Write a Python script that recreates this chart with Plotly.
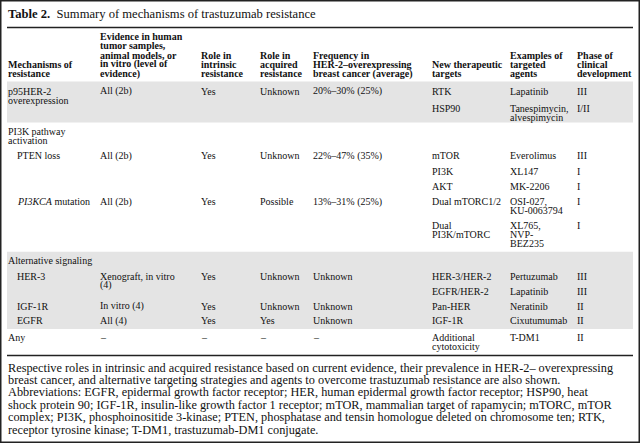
import plotly.graph_objects as go

# ---------------- data ----------------
title_bold = "Table 2."
title_text = "Summary of mechanisms of trastuzumab resistance"

header_mechanism = ["Mechanisms of", "resistance"]
header_evidence = ["Evidence in human", "tumor samples,", "animal models, or", "in vitro (level of", "evidence)"]
header_intrinsic = ["Role in", "intrinsic", "resistance"]
header_acquired = ["Role in", "acquired", "resistance"]
header_frequency = ["Frequency in", "HER-2–overexpressing", "breast cancer (average)"]
header_targets = ["New therapeutic", "targets"]
header_agents = ["Examples of", "targeted", "agents"]
header_phase = ["Phase of", "clinical", "development"]

mechanism = ["p95HER-2\noverexpression", "", "PI3K pathway\nactivation", "PTEN loss", "", "",
             "<i>PI3KCA</i> mutation", "", "Alternative signaling", "HER-3", "", "IGF-1R", "EGFR", "Any"]
evidence = ["All (2b)", "", "", "All (2b)", "", "", "All (2b)", "", "",
            "Xenograft, in vitro\n(4)", "", "In vitro (4)", "All (4)", "–"]
intrinsic = ["Yes", "", "", "Yes", "", "", "Yes", "", "", "Yes", "", "Yes", "Yes", "–"]
acquired = ["Unknown", "", "", "Unknown", "", "", "Possible", "", "", "Unknown", "", "Unknown", "Yes", "–"]
frequency = ["20%–30% (25%)", "", "", "22%–47% (35%)", "", "", "13%–31% (25%)", "", "",
             "Unknown", "", "Unknown", "Unknown", "–"]
targets = ["RTK", "HSP90", "", "mTOR", "PI3K", "AKT", "Dual mTORC1/2", "Dual\nPI3K/mTORC", "",
           "HER-3/HER-2", "EGFR/HER-2", "Pan-HER", "IGF-1R", "Additional\ncytotoxicity"]
agents = ["Lapatinib", "Tanespimycin,\nalvespimycin", "", "Everolimus", "XL147", "MK-2206",
          "OSI-027,\nKU-0063794", "XL765,\nNVP-\nBEZ235", "", "Pertuzumab", "Lapatinib",
          "Neratinib", "Cixutumumab", "T-DM1"]
phase = ["III", "I/II", "", "III", "I", "I", "I", "I", "", "III", "III", "II", "II", "II"]

footnote = [
    "Respective roles in intrinsic and acquired resistance based on current evidence, their prevalence in HER-2– overexpressing",
    "breast cancer, and alternative targeting strategies and agents to overcome trastuzumab resistance are also shown.",
    "Abbreviations: EGFR, epidermal growth factor receptor; HER, human epidermal growth factor receptor; HSP90, heat",
    "shock protein 90; IGF-1R, insulin-like growth factor 1 receptor; mTOR, mammalian target of rapamycin; mTORC, mTOR",
    "complex; PI3K, phosphoinositide 3-kinase; PTEN, phosphatase and tensin homologue deleted on chromosome ten; RTK,",
    "receptor tyrosine kinase; T-DM1, trastuzumab-DM1 conjugate.",
]

# ---------------- layout (pixels) ----------------
W, H = 640, 443
FONT = "Liberation Serif, Times New Roman, serif"
TXT = "#111111"
BAND = "#e4e4e4"
col_x = [8, 100, 201, 260, 313, 432, 510, 577]
indent_x = 17
indented_rows = {3, 6, 9, 11, 12}
row_y = [91, 108, 131, 155.5, 171, 186.3, 201.5, 225, 260.5, 276, 291, 306, 320.5, 337.5]
LINE = 9.2
header_line_y = [36.5, 45.8, 55.1, 64.4, 73.7]
foot_y0, foot_dy = 367.5, 12.4

annotations = []


def add_text(x, y, text, size=10, bold=False):
    if bold:
        text = "<b>" + text + "</b>"
    annotations.append(dict(x=x, y=y, xref="x", yref="y", text=text, showarrow=False,
                            xanchor="left", yanchor="middle", borderpad=0, borderwidth=0,
                            font=dict(family=FONT, size=size, color=TXT)))


# title
add_text(8, 13.5, "<b>" + title_bold + "</b>  " + title_text, size=12.6)

# header
headers = [header_mechanism, header_evidence, header_intrinsic, header_acquired,
           header_frequency, header_targets, header_agents, header_phase]
for cx, lines in zip(col_x, headers):
    start = len(header_line_y) - len(lines)
    for i, ln in enumerate(lines):
        add_text(cx, header_line_y[start + i], ln, bold=True)

# body
columns = [mechanism, evidence, intrinsic, acquired, frequency, targets, agents, phase]
for ci, (cx, col) in enumerate(zip(col_x, columns)):
    for ri, cell in enumerate(col):
        if not cell:
            continue
        x = indent_x if (ci == 0 and ri in indented_rows) else cx
        for li, ln in enumerate(cell.split("\n")):
            add_text(x, row_y[ri] + li * LINE, ln)

# footnote
for i, ln in enumerate(footnote):
    add_text(7.5, foot_y0 + i * foot_dy, ln, size=12.3)

shapes = [
    dict(type="rect", xref="x", yref="y", x0=7, x1=633, y0=81.5, y1=122.5,
         fillcolor=BAND, line=dict(width=0), layer="below"),
    dict(type="rect", xref="x", yref="y", x0=7, x1=633, y0=251.7, y1=329,
         fillcolor=BAND, line=dict(width=0), layer="below"),
    dict(type="line", xref="x", yref="y", x0=7, x1=633, y0=27.5, y1=27.5,
         line=dict(color="#222222", width=1.3)),
    dict(type="line", xref="x", yref="y", x0=7, x1=633, y0=355.5, y1=355.5,
         line=dict(color="#222222", width=1.3)),
    dict(type="rect", xref="x", yref="y", x0=0.75, x1=639.25, y0=0.75, y1=442.25,
         line=dict(color="#222222", width=1.5)),
]

fig = go.Figure()
fig.add_trace(go.Scatter(x=[0, 640], y=[0, 443], mode="markers",
                         marker=dict(opacity=0), hoverinfo="skip", showlegend=False))
fig.update_layout(
    width=W, height=H, margin=dict(l=0, r=0, t=0, b=0),
    paper_bgcolor="white", plot_bgcolor="white",
    xaxis=dict(range=[0, W], visible=False, fixedrange=True),
    yaxis=dict(range=[H, 0], visible=False, fixedrange=True),
    annotations=annotations, shapes=shapes, showlegend=False,
)
fig.write_html("out.html", config={"displayModeBar": False},
               post_script="document.body.style.margin='0';document.body.style.padding='0';"
                           "document.body.style.overflow='hidden';")
